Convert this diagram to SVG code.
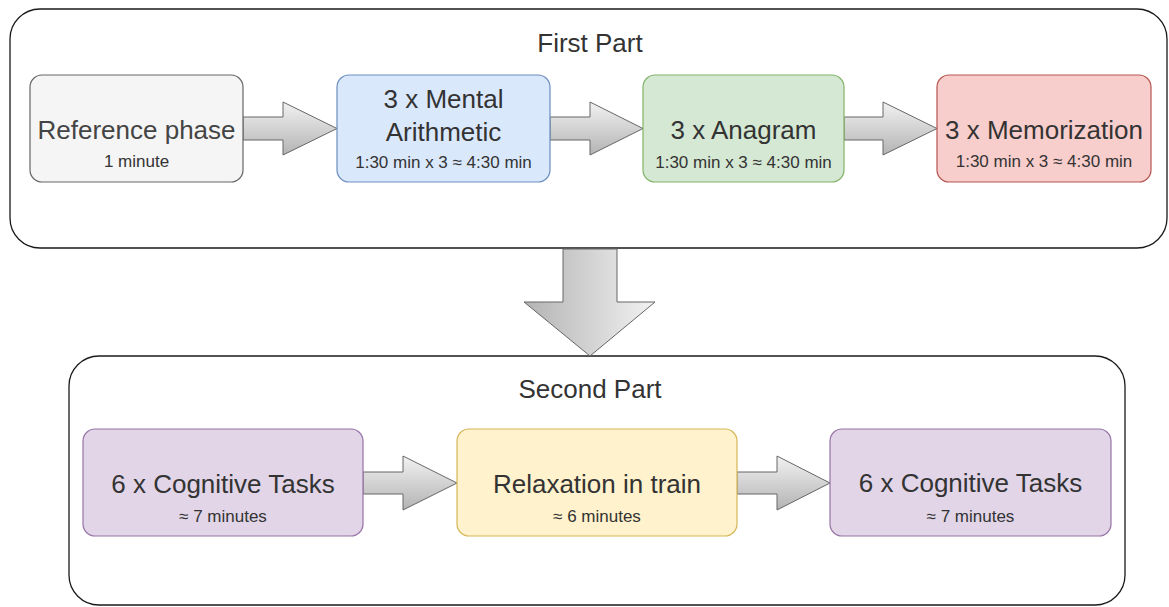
<svg xmlns="http://www.w3.org/2000/svg" width="1169" height="607" viewBox="0 0 1169 607">
<style>
.container{fill:#ffffff;stroke:#1a1a1a;stroke-width:1.3}
.node{stroke-width:1.2}
.gray{fill:#f5f5f5;stroke:#666666}
.blue{fill:#dae8fc;stroke:#6c8ebf}
.green{fill:#d5e8d4;stroke:#82b366}
.red{fill:#f8cecc;stroke:#b85450}
.purple{fill:#e1d5e7;stroke:#9673a6}
.yellow{fill:#fff2cc;stroke:#d6b656}
text{font-family:"Liberation Sans",Arial,sans-serif;text-anchor:middle;fill:#333333}
.title{font-size:26px}
.main{font-size:26px}
.sub{font-size:17px}
.harrow{fill:url(#gv);stroke:#666666;stroke-width:1}
.varrow{fill:url(#gh);stroke:#666666;stroke-width:1}
</style>
<defs>
<linearGradient id="gv" x1="0" y1="0" x2="0" y2="1">
<stop offset="0" stop-color="#f2f2f2"/>
<stop offset="1" stop-color="#b3b3b3"/>
</linearGradient>
<linearGradient id="gh" x1="0" y1="0" x2="1" y2="0">
<stop offset="0" stop-color="#b3b3b3"/>
<stop offset="1" stop-color="#f2f2f2"/>
</linearGradient>
</defs>
<g id="first-part">
<rect class="container" x="10" y="9" width="1157" height="239" rx="30"/>
<text class="title" x="590" y="52">First Part</text>
</g>
<g id="second-part">
<rect class="container" x="69" y="356" width="1056" height="249" rx="30"/>
<text class="title" x="590" y="398">Second Part</text>
</g>
<g id="connectors">
<polygon class="harrow" points="243,117 283,117 283,102 337,128.5 283,155 283,140 243,140"/>
<polygon class="harrow" points="550,117 590,117 590,102 643,128.5 590,155 590,140 550,140"/>
<polygon class="harrow" points="844,117 883,117 883,102 937,128.5 883,155 883,140 844,140"/>
<polygon class="varrow" points="563,249 617,249 617,302 655,302 590,356 524,302 563,302"/>
<polygon class="harrow" points="363,472 403,472 403,456 457,483 403,510 403,494 363,494"/>
<polygon class="harrow" points="737,472 777,472 777,456 830,483 777,510 777,494 737,494"/>
</g>
<g id="reference-phase">
<rect class="node gray" x="30" y="75" width="213" height="107" rx="12"/>
<text class="main" x="136.5" y="139" fill="#444444" style="fill:#444444">Reference phase</text>
<text class="sub" x="136.5" y="167">1 minute</text>
</g>
<g id="mental-arithmetic">
<rect class="node blue" x="337" y="75" width="213" height="107" rx="12"/>
<text class="main" x="443.5" y="108">3 x Mental</text>
<text class="main" x="443.5" y="141">Arithmetic</text>
<text class="sub" x="443.5" y="168">1:30 min x 3 ≈ 4:30 min</text>
</g>
<g id="anagram">
<rect class="node green" x="643" y="75" width="201" height="107" rx="12"/>
<text class="main" x="743.5" y="139">3 x Anagram</text>
<text class="sub" x="743.5" y="168">1:30 min x 3 ≈ 4:30 min</text>
</g>
<g id="memorization">
<rect class="node red" x="937" y="75" width="214" height="107" rx="12"/>
<text class="main" x="1044" y="139">3 x Memorization</text>
<text class="sub" x="1044" y="167">1:30 min x 3 ≈ 4:30 min</text>
</g>
<g id="cognitive-tasks-1">
<rect class="node purple" x="83" y="429" width="280" height="107" rx="12"/>
<text class="main" x="223" y="493">6 x Cognitive Tasks</text>
<text class="sub" x="223" y="522">≈ 7 minutes</text>
</g>
<g id="relaxation">
<rect class="node yellow" x="457" y="429" width="280" height="107" rx="12"/>
<text class="main" x="597" y="493">Relaxation in train</text>
<text class="sub" x="597" y="522">≈ 6 minutes</text>
</g>
<g id="cognitive-tasks-2">
<rect class="node purple" x="830" y="429" width="281" height="107" rx="12"/>
<text class="main" x="970.5" y="492">6 x Cognitive Tasks</text>
<text class="sub" x="970.5" y="522">≈ 7 minutes</text>
</g>
</svg>
